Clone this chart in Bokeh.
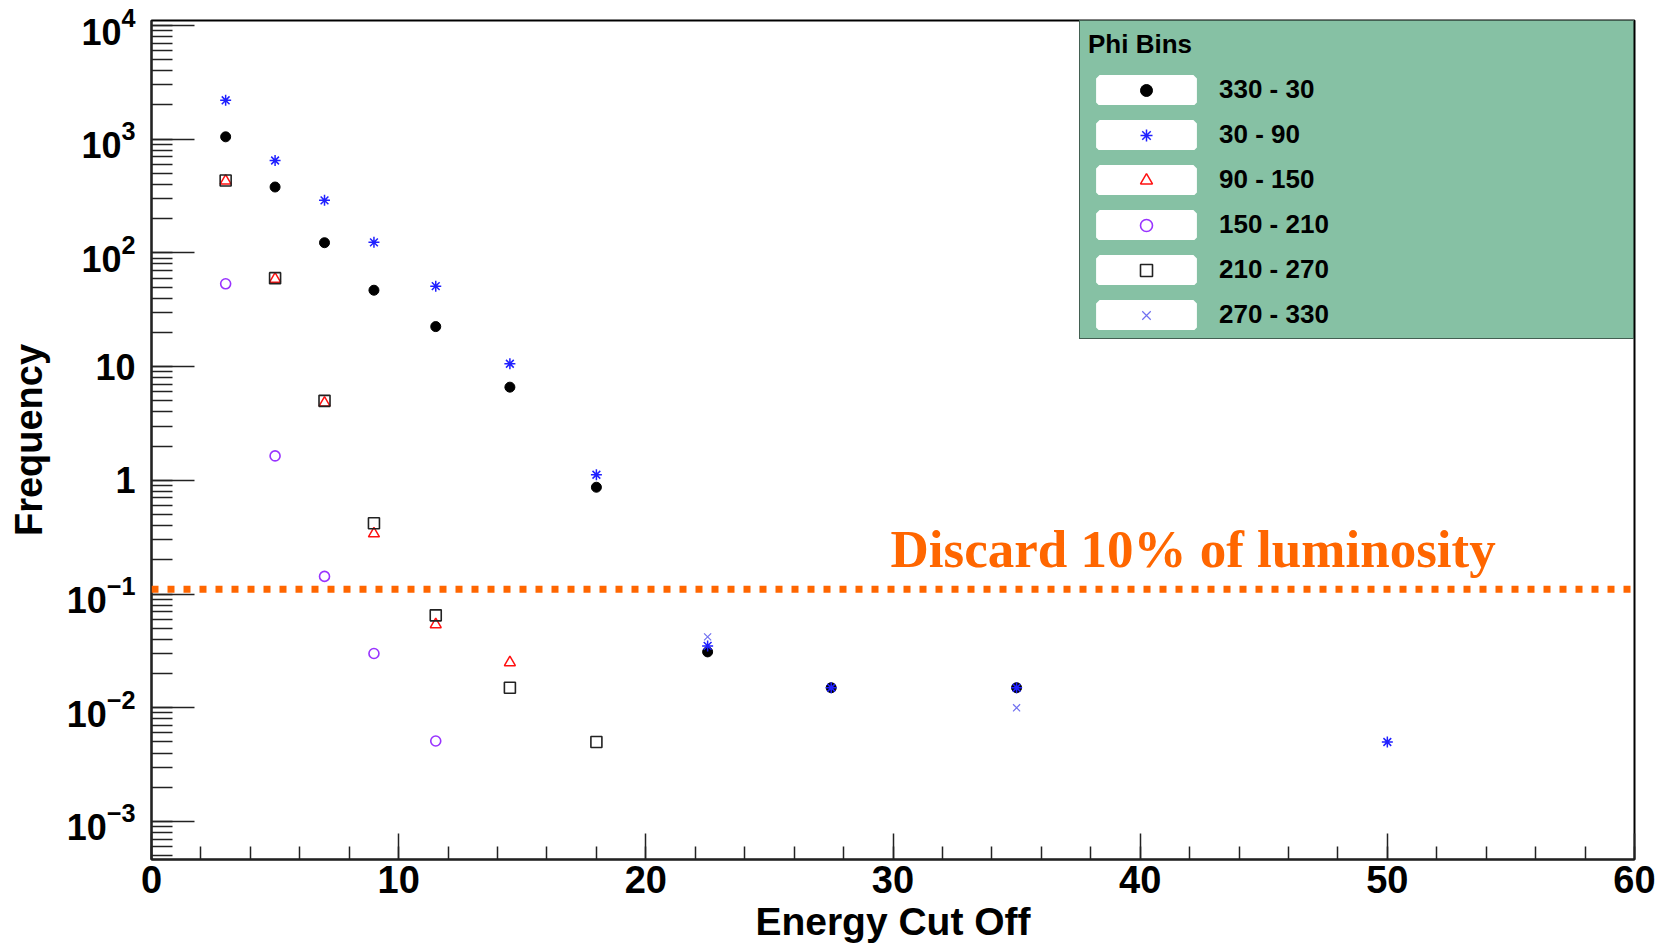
from bokeh.plotting import figure
from bokeh.models import (Range1d, Span, Label, Legend, LegendItem,
                          LogTickFormatter, SingleIntervalTicker, LogTicker)
from bokeh.embed import file_html
from bokeh.resources import INLINE

# ---------------- data ----------------
phi_330_30_x = [3, 5, 7, 9, 11.5, 14.5, 18, 22.5, 27.5, 35]
phi_330_30_y = [1050, 380, 123, 47, 22.5, 6.6, 0.87, 0.031, 0.015, 0.015]

phi_30_90_x = [3, 5, 7, 9, 11.5, 14.5, 18, 22.5, 27.5, 35, 50]
phi_30_90_y = [2200, 650, 290, 124, 51, 10.6, 1.12, 0.035, 0.015, 0.015, 0.005]

phi_90_150_x = [3, 5, 7, 9, 11.5, 14.5]
phi_90_150_y = [430, 59, 4.8, 0.34, 0.054, 0.025]

phi_150_210_x = [3, 5, 7, 9, 11.5]
phi_150_210_y = [53.5, 1.64, 0.143, 0.030, 0.0051]

phi_210_270_x = [3, 5, 7, 9, 11.5, 14.5, 18]
phi_210_270_y = [434, 60, 5.0, 0.42, 0.065, 0.015, 0.005]

phi_270_330_x = [22.5, 35]
phi_270_330_y = [0.042, 0.010]

series_labels = ["330 - 30", "30 - 90", "90 - 150", "150 - 210", "210 - 270", "270 - 330"]
threshold = 0.11
threshold_text = "Discard 10% of luminosity"
x_label = "Energy Cut Off"
y_label = "Frequency"
legend_title = "Phi Bins"

# ---------------- figure ----------------
p = figure(width=1666, height=945,
           x_range=Range1d(0, 60), y_range=Range1d(4.63e-4, 1.107e4),
           y_axis_type="log", output_backend="svg", toolbar_location=None,
           min_border_left=151, min_border_right=32,
           min_border_top=20, min_border_bottom=86)
p.xgrid.visible = False
p.ygrid.visible = False
p.background_fill_color = "white"
p.border_fill_color = "white"
p.outline_line_color = "black"
p.outline_line_width = 2

FONT = "Liberation Sans"

xa = p.xaxis[0]
xa.ticker = SingleIntervalTicker(interval=10, num_minor_ticks=5)
xa.major_tick_in = 26
xa.major_tick_out = 0
xa.minor_tick_in = 13
xa.minor_tick_out = 0
xa.axis_line_width = 2
xa.axis_line_color = "#222222"
xa.major_tick_line_width = 1.5
xa.minor_tick_line_width = 1.5
xa.major_tick_line_color = "#222222"
xa.minor_tick_line_color = "#222222"
xa.major_label_text_font = FONT
xa.major_label_text_font_style = "bold"
xa.major_label_text_font_size = "38px"
xa.major_label_text_color = "black"
xa.major_label_standoff = 6
xa.axis_label = x_label
xa.axis_label_text_font = FONT
xa.axis_label_text_font_style = "bold"
xa.axis_label_text_font_size = "39px"
xa.axis_label_text_color = "black"
xa.axis_label_standoff = 4

ya = p.yaxis[0]
ya.ticker = LogTicker(num_minor_ticks=10)
ya.formatter = LogTickFormatter()
ya.major_label_overrides = {1: "1", 10: "10"}
ya.major_tick_in = 43
ya.major_tick_out = 0
ya.minor_tick_in = 21
ya.minor_tick_out = 0
ya.axis_line_width = 2
ya.axis_line_color = "#222222"
ya.major_tick_line_width = 1.5
ya.minor_tick_line_width = 1.5
ya.major_tick_line_color = "#222222"
ya.minor_tick_line_color = "#222222"
ya.major_label_text_font = FONT
ya.major_label_text_font_style = "bold"
ya.major_label_text_font_size = "36px"
ya.major_label_text_color = "black"
ya.major_label_standoff = 16
ya.axis_label = y_label
ya.axis_label_text_font = FONT
ya.axis_label_text_font_style = "bold"
ya.axis_label_text_font_size = "38px"
ya.axis_label_text_color = "black"
ya.axis_label_standoff = 14

# ---------------- threshold line + text ----------------
span = Span(location=threshold, dimension="width", line_color="#ff6600",
            line_width=7, line_dash="7 9")
p.add_layout(span)
p.add_layout(Label(x=29.9, y=0.25, text=threshold_text,
                   text_font="Liberation Serif", text_font_style="bold",
                   text_font_size="53px", text_color="#ff6600",
                   text_baseline="alphabetic"))

# ---------------- markers ----------------
r1 = p.scatter(phi_330_30_x, phi_330_30_y, marker="circle", size=10,
               fill_color="black", line_color="black")
r2 = p.scatter(phi_30_90_x, phi_30_90_y, marker="asterisk", size=11,
               line_color="#2020ff", line_width=1.5)
r3 = p.scatter(phi_90_150_x, phi_90_150_y, marker="triangle", size=11,
               fill_color=None, line_color="#ff1010", line_width=1.5)
r4 = p.scatter(phi_150_210_x, phi_150_210_y, marker="circle", size=10,
               fill_color=None, line_color="#9933ff", line_width=1.6)
r5 = p.scatter(phi_210_270_x, phi_210_270_y, marker="square", size=11,
               fill_color=None, line_color="#222222", line_width=1.6)
r6 = p.scatter(phi_270_330_x, phi_270_330_y, marker="x", size=10,
               line_color="#7070f0", line_width=1.2)

# white boxes behind legend glyphs (NaN data: nothing drawn in the plot)
nan = float("nan")
wbox = p.rect(x=[nan], y=[nan], width=1, height=1, fill_color="white",
              line_color="white", line_width=8)

renderers = [r1, r2, r3, r4, r5, r6]
items = [LegendItem(label=lab, renderers=[wbox, r]) for lab, r in zip(series_labels, renderers)]
legend = Legend(items=items, location="top_right", title=legend_title,
                title_text_font=FONT, title_text_font_style="bold",
                title_text_font_size="26px", title_text_color="black",
                title_standoff=14,
                label_text_font=FONT, label_text_font_style="bold",
                label_text_font_size="26px", label_text_color="black",
                label_height=30, glyph_height=30, glyph_width=116,
                label_standoff=15, label_width=406, spacing=14,
                padding=8, margin=0,
                border_line_color="black", border_line_width=1.5,
                background_fill_color="#86c1a4", background_fill_alpha=1.0)
p.add_layout(legend, "center")

open("out.html", "w").write(file_html(p, INLINE))
